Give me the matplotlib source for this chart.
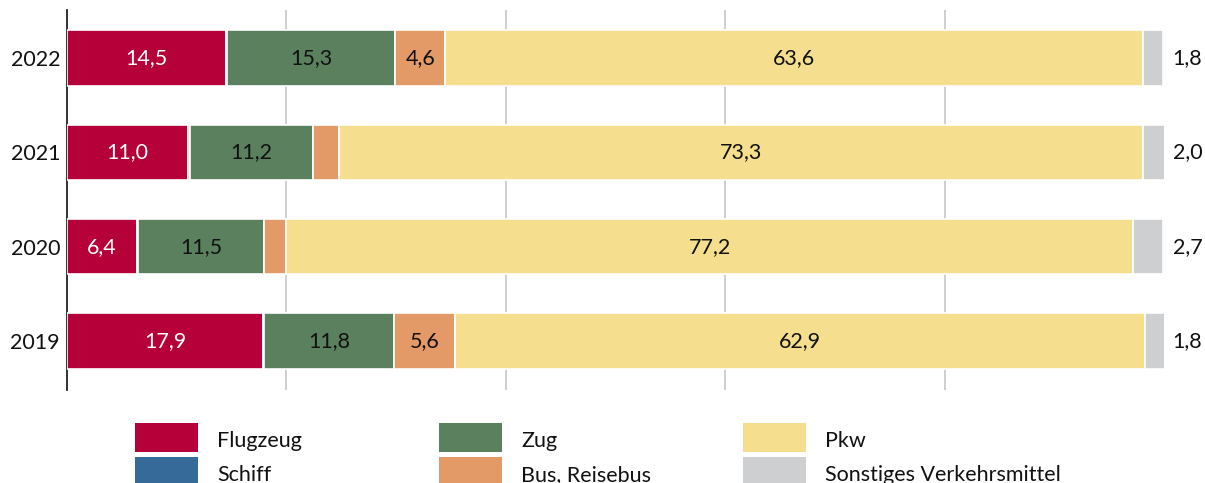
import matplotlib.pyplot as plt
from matplotlib.patches import Rectangle

plt.rcParams['font.family'] = ['Lato', 'DejaVu Sans']

years = ["2019", "2020", "2021", "2022"]
categories = ["Flugzeug", "Schiff", "Zug", "Bus, Reisebus", "Pkw", "Sonstiges Verkehrsmittel"]
flugzeug = [17.9, 6.4, 11.0, 14.5]
schiff = [0.1, 0.1, 0.2, 0.1]
zug = [11.8, 11.5, 11.2, 15.3]
bus = [5.6, 2.0, 2.4, 4.6]
pkw = [62.9, 77.2, 73.3, 63.6]
sonstige = [1.8, 2.7, 2.0, 1.8]

series = [flugzeug, schiff, zug, bus, pkw, sonstige]
colors = ["#B5003A", "#356A99", "#5B805E", "#E39A66", "#F5DF8E", "#CECFD1"]
label_colors = ["white", None, "#111111", "#111111", "#111111", None]
min_label = 3.0
fs = 15.5

fig = plt.figure(figsize=(12.05, 4.83), dpi=100)
ax = fig.add_axes([67 / 1205, 1 - 390 / 483, 1097 / 1205, 380 / 483])

ypos = list(range(len(years)))
left = [0.0] * len(years)
for vals, col, lc in zip(series, colors, label_colors):
    bars = ax.barh(ypos, vals, left=left, height=0.59, color=col,
                   edgecolor="white", linewidth=1.2, zorder=3)
    if lc is not None:
        for b, v in zip(bars, vals):
            if v >= min_label:
                ax.text(b.get_x() + b.get_width() / 2, b.get_y() + b.get_height() / 2,
                        f"{v:.1f}".replace(".", ","), ha="center", va="center",
                        color=lc, fontsize=fs, zorder=4)
    left = [l + v for l, v in zip(left, vals)]

# Sonstige labels outside the bar
for y, v in zip(ypos, sonstige):
    ax.text(100.8, y, f"{v:.1f}".replace(".", ","), ha="left", va="center",
            color="#111111", fontsize=fs, clip_on=False)

ax.set_xlim(0, 100)
ax.set_ylim(-0.52, 3.51)
ax.set_yticks(ypos)
ax.set_yticklabels(years, fontsize=fs, color="#111111")
ax.tick_params(axis="y", length=0, pad=5)
ax.set_xticks([20, 40, 60, 80])
ax.tick_params(axis="x", length=0, labelbottom=False)
ax.grid(axis="x", color="#CCCCCC", linewidth=1.3, zorder=0)
for s in ["top", "right", "bottom"]:
    ax.spines[s].set_visible(False)
ax.spines["left"].set_color("#222222")
ax.spines["left"].set_linewidth(1.3)

# legend, 3 columns x 2 rows
col_x = [135, 439, 743]
row_y = [423, 457]
for i, (name, col) in enumerate(zip(categories, colors)):
    cx = col_x[i // 2]
    ry = row_y[i % 2]
    fig.add_artist(Rectangle((cx / 1205, 1 - (ry + 29) / 483), 63 / 1205, 29 / 483,
                             transform=fig.transFigure, facecolor=col, edgecolor="none"))
    fig.text((cx + 82) / 1205, 1 - (ry + 18) / 483, name, ha="left", va="center",
             fontsize=fs, color="#111111")

fig.savefig("out.png", dpi=100)
